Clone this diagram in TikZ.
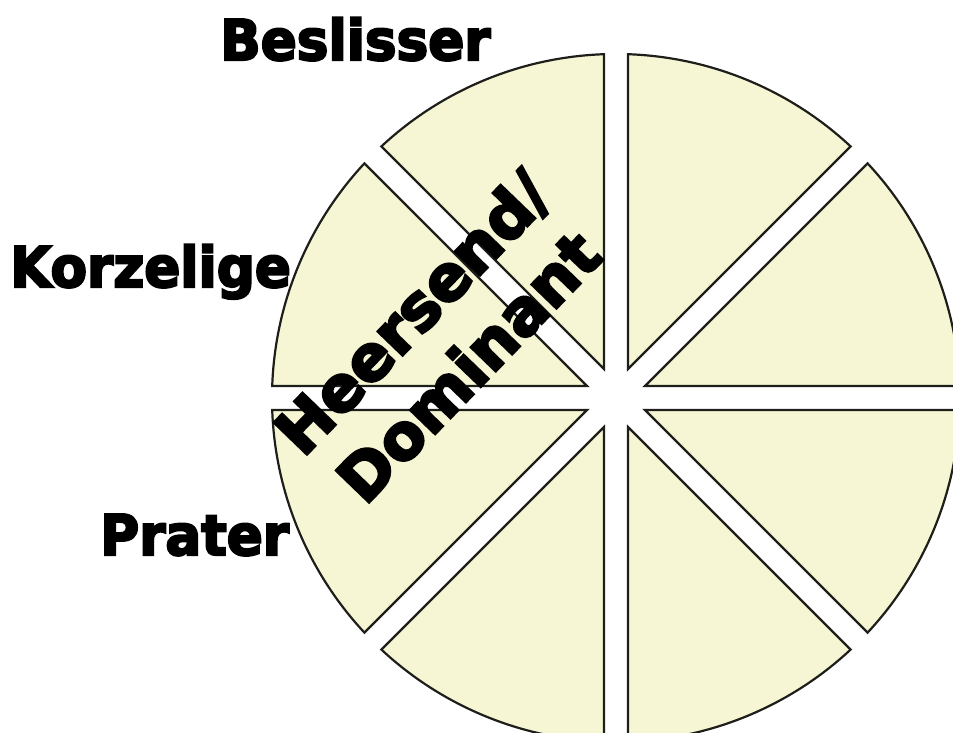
\documentclass[tikz,border=0pt]{standalone}
\usepackage{fontspec}
\setmainfont{DejaVu Sans}
\newfontfamily\heavy{DejaVu Sans}[BoldFeatures={FakeBold=4}]
\usetikzlibrary{calc}
\definecolor{wedgefill}{HTML}{F6F5D4}
\definecolor{wedgeline}{HTML}{1E1E1A}
\tikzset{
  wedge/.style={fill=wedgefill, draw=wedgeline, line width=2.2pt, line join=miter},
  label/.style={font=\heavy\bfseries\fontsize{56}{60}\selectfont, inner sep=0pt, anchor=base west, xscale=0.95},
  diag/.style={font=\heavy\bfseries\fontsize{63}{78}\selectfont, inner sep=0pt, align=center, rotate=46}
}
\begin{document}
\begin{tikzpicture}[x=1pt,y=1pt]
\useasboundingbox (0,0) rectangle (953,733);
\begin{scope}
\clip (0,0) rectangle (953,733);
\coordinate (C) at (616,335);
\foreach \k in {0,...,7} {
  \pgfmathsetmacro\b{45*\k+2}
  \pgfmathsetmacro\e{45*\k+43}
  \pgfmathsetmacro\m{45*\k+22.5}
  \filldraw[wedge] ($(C)+(\m:31.36)$) -- ($(C)+(\b:344)$) arc[start angle=\b, end angle=\e, radius=344] -- cycle;
}
\end{scope}
\node[label] (besl) at (220,673) {Beslisser};
\node[label] (korz) at (10,446) {Korzelige};
\node[label] (prat) at (100,178) {Prater};
\node[diag] (heer) at (440,394) {Heersend/\\Dominant};
\end{tikzpicture}
\end{document}
